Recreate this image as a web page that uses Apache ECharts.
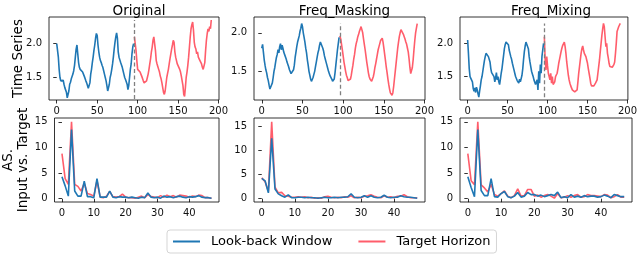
<!DOCTYPE html>
<html><head><meta charset="utf-8">
<script src="https://cdn.jsdelivr.net/npm/echarts@6/dist/echarts.min.js"></script>
<style>html,body{margin:0;padding:0;background:#fff}#c{width:640px;height:256px}</style>
</head><body><div id="c"></div>
<script>
// ---------- DATA ----------
const titles = ['Original', 'Freq_Masking', 'Freq_Mixing'];
const legendNames = ['Look-back Window', 'Target Horizon'];
const tsTicks = [0, 50, 100, 150, 200];
const asTicks = [0, 10, 20, 30, 40];
const tsYTicks = [1.5, 2.0];
const asYTicks = [0, 5, 10, 15];
const splitPoint = 96;

const origInput = [2.00,1.98,1.80,1.62,1.50,1.45,1.47,1.44,1.46,1.40,1.35,1.33,1.28,1.20,1.18,1.30,1.40,1.43,1.48,1.50,1.55,1.60,1.68,1.80,1.92,1.98,1.85,1.72,1.65,1.62,1.64,1.60,1.58,1.55,1.52,1.50,1.45,1.42,1.38,1.34,1.33,1.42,1.55,1.62,1.72,1.80,1.90,1.98,2.08,2.15,2.12,1.98,1.88,1.80,1.75,1.72,1.68,1.65,1.60,1.55,1.50,1.45,1.38,1.30,1.28,1.40,1.50,1.55,1.62,1.70,1.80,1.92,2.02,2.10,2.16,2.08,1.88,1.80,1.76,1.72,1.70,1.65,1.60,1.55,1.50,1.47,1.45,1.40,1.32,1.38,1.50,1.62,1.70,1.85,1.95,2.00];
const origTarget = [2.10,2.08,1.90,1.75,1.62,1.60,1.62,1.58,1.55,1.52,1.50,1.45,1.42,1.40,1.42,1.45,1.50,1.55,1.62,1.70,1.78,1.88,1.95,2.05,2.10,2.08,1.90,1.75,1.70,1.66,1.62,1.58,1.52,1.48,1.42,1.35,1.28,1.25,1.30,1.40,1.50,1.56,1.62,1.70,1.78,1.85,1.92,1.98,2.05,2.02,1.88,1.80,1.75,1.70,1.72,1.68,1.62,1.58,1.52,1.45,1.38,1.25,1.22,1.35,1.50,1.58,1.68,1.80,1.95,2.10,2.22,2.28,2.32,2.20,2.02,1.95,1.92,1.85,1.88,1.80,1.78,1.75,1.76,1.70,1.65,1.62,1.60,1.72,1.90,2.05,2.15,2.22,2.18,2.25,2.22,2.35];

const maskInput = [1.80,1.85,1.75,1.65,1.58,1.52,1.48,1.42,1.38,1.32,1.27,1.25,1.28,1.35,1.42,1.50,1.55,1.62,1.68,1.72,1.78,1.74,1.82,1.86,1.78,1.84,1.80,1.75,1.72,1.70,1.66,1.62,1.60,1.56,1.52,1.50,1.47,1.48,1.47,1.52,1.58,1.68,1.75,1.82,1.88,1.92,1.96,2.02,2.06,2.12,2.08,2.00,1.94,1.88,1.80,1.74,1.65,1.58,1.50,1.45,1.40,1.37,1.39,1.42,1.46,1.50,1.56,1.62,1.68,1.74,1.78,1.84,1.88,1.90,1.86,1.80,1.76,1.70,1.66,1.62,1.58,1.54,1.50,1.47,1.44,1.42,1.40,1.37,1.35,1.40,1.48,1.58,1.68,1.78,1.86,1.94];
const maskTarget = [1.96,1.92,1.85,1.78,1.70,1.62,1.56,1.50,1.45,1.42,1.38,1.36,1.38,1.40,1.45,1.52,1.58,1.66,1.72,1.80,1.86,1.90,1.95,1.98,2.02,2.05,2.08,2.06,2.00,1.92,1.85,1.78,1.70,1.62,1.55,1.48,1.43,1.40,1.38,1.37,1.39,1.43,1.48,1.55,1.60,1.66,1.72,1.78,1.82,1.86,1.90,1.92,1.93,1.88,1.80,1.72,1.64,1.55,1.48,1.40,1.33,1.27,1.22,1.20,1.19,1.22,1.30,1.40,1.50,1.60,1.70,1.80,1.88,1.95,2.00,2.04,2.06,2.02,1.98,1.95,1.92,1.88,1.85,1.80,1.75,1.66,1.55,1.47,1.46,1.55,1.65,1.78,1.90,2.00,2.06,2.12];

const mixInput = [2.05,1.85,1.62,1.50,1.48,1.47,1.42,1.32,1.28,1.33,1.26,1.34,1.30,1.24,1.19,1.28,1.36,1.45,1.50,1.58,1.66,1.74,1.80,1.85,1.88,1.84,1.80,1.82,1.72,1.62,1.56,1.55,1.54,1.50,1.42,1.48,1.56,1.45,1.50,1.42,1.38,1.46,1.55,1.62,1.72,1.82,1.92,1.98,2.02,2.03,2.02,1.98,1.90,1.85,1.80,1.76,1.70,1.65,1.60,1.55,1.50,1.48,1.44,1.42,1.40,1.46,1.42,1.40,1.52,1.62,1.76,1.88,1.96,2.02,2.05,2.00,1.92,1.80,1.72,1.65,1.58,1.54,1.50,1.45,1.42,1.38,1.35,1.45,1.30,1.58,1.40,1.68,1.55,1.80,1.90,2.00];
const mixTarget = [2.10,1.75,1.60,1.80,1.66,1.55,1.50,1.45,1.55,1.40,1.50,1.38,1.35,1.42,1.50,1.52,1.55,1.62,1.70,1.76,1.82,1.88,1.93,1.97,2.00,2.02,1.95,1.85,1.72,1.62,1.52,1.45,1.40,1.36,1.34,1.30,1.32,1.28,1.27,1.30,1.26,1.30,1.42,1.55,1.65,1.75,1.85,1.92,1.96,1.90,1.85,1.88,1.80,1.75,1.70,1.62,1.55,1.48,1.40,1.36,1.34,1.38,1.36,1.34,1.40,1.38,1.45,1.55,1.65,1.75,1.88,2.00,2.12,2.22,2.30,2.25,2.10,1.95,2.00,1.85,1.78,1.70,1.65,1.64,1.66,1.64,1.65,1.68,1.72,1.85,2.00,2.18,2.15,2.25,2.22,2.30];

const origASInput = [4.3,2.5,0.5,13.5,1.5,0.5,0.5,3.4,0.4,0.4,0.2,3.9,0.3,0.3,0.3,1.5,0.3,0.2,0.4,0.3,0.3,0.2,0.3,0.2,0.1,0.3,0.2,1.1,0.3,0.2,0.3,0.1,0.5,0.3,0.4,0.2,0.4,0.5,0.3,0.2,0.4,0.3,0.4,0.6,0.3,0.2,0.2,0.1];
const origASTarget = [8.8,3.9,2.8,15.0,2.8,2.4,1.5,3.0,1.0,0.8,0.5,3.5,0.3,0.2,0.5,1.4,0.4,0.3,0.4,0.9,0.3,0.2,0.2,0.1,0.3,0.5,0.2,0.8,0.4,0.3,0.2,0.6,0.3,0.7,0.4,0.6,0.3,0.7,0.6,0.5,0.3,0.5,0.4,0.7,0.6,0.2,0.2,0.1];
const maskASInput = [4.2,3.7,1.2,12.5,2.0,1.0,0.6,0.3,0.8,0.2,0.2,0.3,0.3,0.2,0.3,0.2,0.2,0.1,0.2,0.3,0.2,0.2,0.3,0.2,0.3,0.3,0.4,1.0,0.3,0.2,0.3,0.6,0.3,0.6,0.3,0.2,0.3,0.7,0.3,0.2,0.3,0.3,0.6,0.4,0.3,0.3,0.2,0.1];
const maskASTarget = [4.3,3.5,1.5,15.9,2.4,1.2,1.3,0.6,0.5,0.3,0.3,0.4,0.3,0.4,0.2,0.3,0.1,0.2,0.1,0.4,0.5,0.3,0.2,0.3,0.2,0.4,0.3,0.6,0.2,0.3,0.2,0.5,0.6,0.8,0.5,0.3,0.2,0.6,0.3,0.4,0.2,0.5,0.5,0.8,0.4,0.2,0.2,0.2];
const mixASInput = [4.3,2.2,0.4,13.5,1.6,0.6,0.6,3.9,0.4,0.3,1.0,1.4,0.4,0.2,0.5,1.2,0.3,0.5,1.2,0.8,0.8,0.5,0.7,0.4,0.6,0.8,0.6,1.3,0.2,0.4,0.2,0.8,0.3,0.5,0.3,0.6,0.4,0.5,0.5,0.3,0.4,0.7,0.5,0.2,0.8,0.6,0.4,0.4];
const mixASTarget = [8.8,3.5,2.7,15.0,2.7,2.1,1.3,2.8,0.8,0.5,1.0,1.5,0.5,0.2,0.6,1.9,0.5,0.6,1.8,1.8,0.5,0.7,0.3,0.6,0.8,0.5,0.1,1.0,0.2,0.3,0.6,0.3,0.6,0.8,0.3,0.4,0.8,0.6,0.6,0.5,0.4,0.8,0.7,0.2,0.4,0.8,0.3,0.3];

// ---------- LAYOUT / STYLE ----------
const blue = '#1f77b4', red = 'rgba(255,30,50,0.72)';
const FONT = 'DejaVu Sans';
const lefts = [49, 254, 460], widths = [170, 171, 172];
const topRow = {top: 17, height: 83}, botRow = {top: 118, height: 84};
const tsRanges = [[1.167, 2.394], [1.128, 2.205], [1.147, 2.397]];
const tsPairs = [[origInput, origTarget], [maskInput, maskTarget], [mixInput, mixTarget]];
const asPairs = [[origASInput, origASTarget], [maskASInput, maskASTarget], [mixASInput, mixASTarget]];

const grids = [], xAxes = [], yAxes = [], series = [], titleArr = [];
const tickLabel = {fontSize: 10, color: '#111', fontFamily: FONT};

function addAxes(idx, xr, xticks, yr, yticks, yfmt, yname, nameGap) {
  xAxes.push({type: 'value', gridIndex: idx, min: xr[0], max: xr[1],
    axisLine: {show: false}, splitLine: {show: false},
    axisTick: {show: true, length: 3.5, customValues: xticks, lineStyle: {color: '#000', width: 0.8}},
    axisLabel: Object.assign({customValues: xticks, margin: 6}, tickLabel)});
  const y = {type: 'value', gridIndex: idx, min: yr[0], max: yr[1],
    axisLine: {show: false}, splitLine: {show: false},
    axisTick: {show: true, length: 3.5, customValues: yticks, lineStyle: {color: '#000', width: 0.8}},
    axisLabel: Object.assign({customValues: yticks, margin: 7, formatter: yfmt}, tickLabel)};
  if (yname) {
    Object.assign(y, {name: yname, nameLocation: 'middle', nameRotate: 90, nameGap: nameGap,
      nameMoveOverlap: false,
      nameTextStyle: {fontSize: 13.5, fontFamily: FONT, color: '#000', lineHeight: 15}});
  }
  yAxes.push(y);
}

for (let k = 0; k < 3; k++) {
  // top row: time series
  grids.push({left: lefts[k], width: widths[k], top: topRow.top, height: topRow.height,
    show: true, borderColor: '#000', borderWidth: 0.8, backgroundColor: 'transparent'});
  addAxes(k, [-9.55, 200.55], tsTicks, tsRanges[k], tsYTicks, v => v.toFixed(1),
    k === 0 ? 'Time Series' : null, 23);
  const [inp, tgt] = tsPairs[k];
  const all = inp.concat(tgt);
  const lo = Math.min.apply(null, all), hi = Math.max.apply(null, all);
  series.push({type: 'line', name: legendNames[0], xAxisIndex: k, yAxisIndex: k,
    data: inp.map((v, i) => [i, v]), symbol: 'none', showSymbol: false,
    lineStyle: {color: blue, width: 1.6}, itemStyle: {color: blue}, z: 3,
    markLine: {silent: true, symbol: ['none', 'none'], label: {show: false},
      lineStyle: {type: [4, 2.5], color: '#808080', width: 1.3},
      emphasis: {disabled: true},
      data: [[{coord: [splitPoint, lo]}, {coord: [splitPoint, hi]}]]}});
  series.push({type: 'line', name: legendNames[1], xAxisIndex: k, yAxisIndex: k,
    data: tgt.map((v, i) => [splitPoint + i, v]), symbol: 'none', showSymbol: false,
    lineStyle: {color: red, width: 1.6}, itemStyle: {color: red}, z: 2});
  titleArr.push({text: titles[k], left: lefts[k] + widths[k] / 2, top: -1, textAlign: 'center',
    textStyle: {fontSize: 13.5, fontWeight: 'normal', fontFamily: FONT, color: '#000'}});
}
for (let k = 0; k < 3; k++) {
  const gi = 3 + k;
  const [inp, tgt] = asPairs[k];
  const all = inp.concat(tgt);
  const lo = Math.min.apply(null, all), hi = Math.max.apply(null, all);
  const m = (hi - lo) * 0.05;
  grids.push({left: lefts[k], width: widths[k], top: botRow.top, height: botRow.height,
    show: true, borderColor: '#000', borderWidth: 0.8, backgroundColor: 'transparent'});
  addAxes(gi, [-2.35, 49.35], asTicks, [lo - m, hi + m], asYTicks, v => String(v),
    k === 0 ? 'AS.\nInput vs. Target' : null, 23.5);
  series.push({type: 'line', name: legendNames[1], xAxisIndex: gi, yAxisIndex: gi,
    data: tgt.map((v, i) => [i, v]), symbol: 'none', showSymbol: false,
    lineStyle: {color: red, width: 1.6}, itemStyle: {color: red}, z: 2});
  series.push({type: 'line', name: legendNames[0], xAxisIndex: gi, yAxisIndex: gi,
    data: inp.map((v, i) => [i, v]), symbol: 'none', showSymbol: false,
    lineStyle: {color: blue, width: 1.6}, itemStyle: {color: blue}, z: 3});
}

const chart = echarts.init(document.getElementById('c'), null, {renderer: 'canvas'});
chart.setOption({
  animation: false,
  backgroundColor: '#fff',
  title: titleArr,
  grid: grids, xAxis: xAxes, yAxis: yAxes, series: series,
  legend: {data: legendNames, left: 167, top: 230, orient: 'horizontal', icon: 'rect',
    itemWidth: 27, itemHeight: 2, itemGap: 26, padding: [5, 6, 5, 6],
    borderColor: '#d5d5d5', borderWidth: 1, borderRadius: 3, selectedMode: false,
    textStyle: {fontSize: 13, fontFamily: FONT, color: '#000', padding: [0, 0, 0, 6]}}
});
</script></body></html>
